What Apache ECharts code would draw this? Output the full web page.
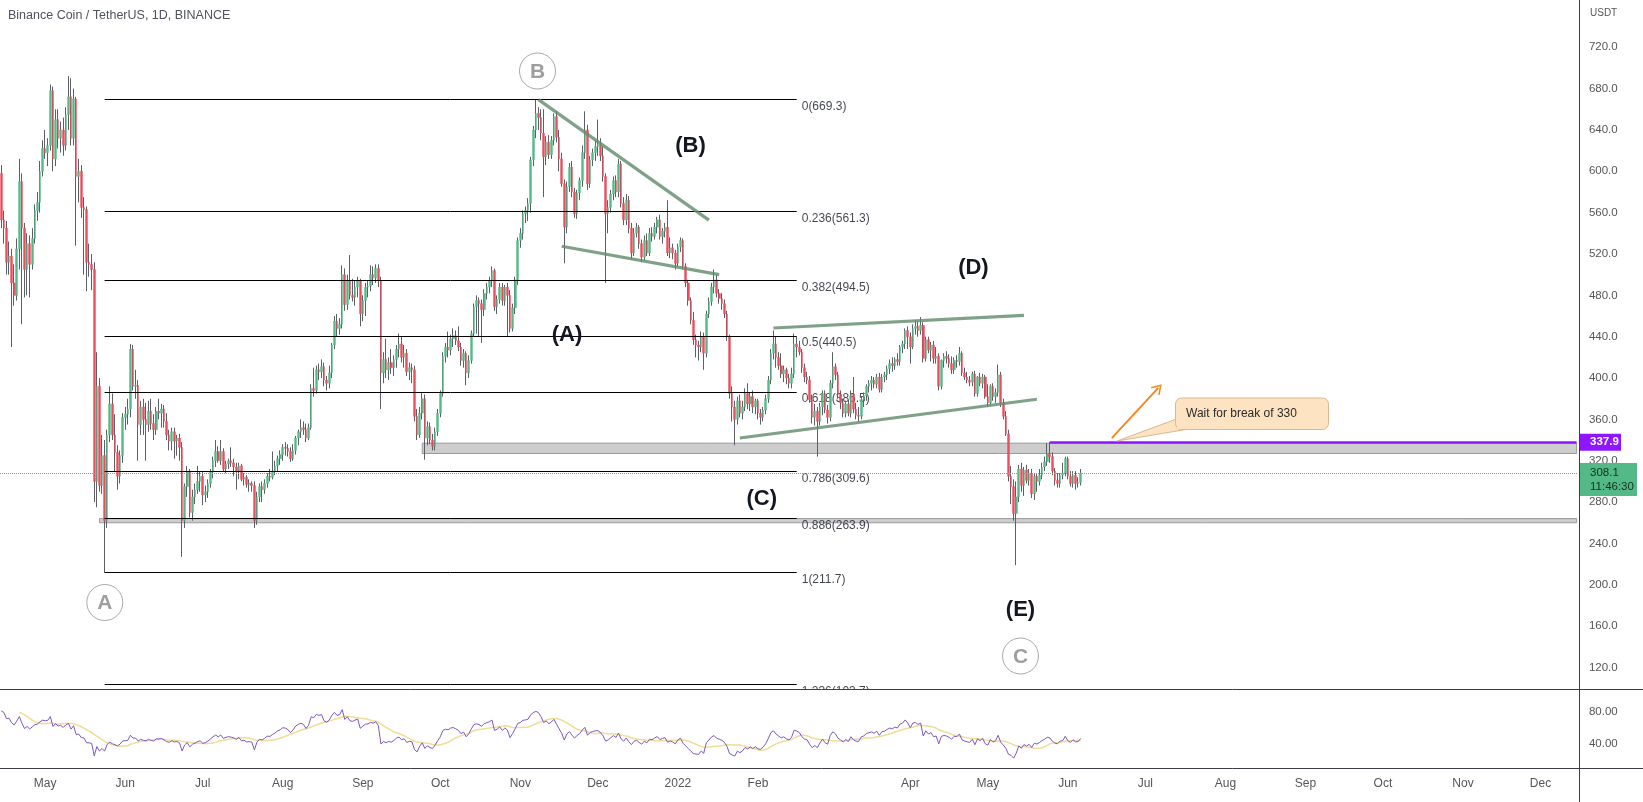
<!DOCTYPE html>
<html><head><meta charset="utf-8">
<script src="https://cdn.jsdelivr.net/npm/echarts@6/dist/echarts.min.js"></script>
<style>html,body{margin:0;padding:0;background:#fff;}#c{width:1643px;height:802px;}</style>
</head><body><div id="c"></div>
<script>
// ---------- DATA ----------
const START_DATE = '2021-04-14';
const N_DAYS = 611;
// daily candles from 2021-04-14: [open, close, low, high]
const candles = [
[598,553,545,606],[553,545,530,562],[545,512,500,552],[512,518,500,532],[518,492,430,525],[492,480,470,510],[480,525,475,535],
[525,590,505,612],[590,545,452,598],[545,505,478,550],[505,530,480,540],[530,510,478,538],[510,535,505,545],[535,562,530,568],
[562,570,552,580],[570,600,560,610],[600,622,595,630],[622,618,612,640],[618,625,605,632],[625,678,620,684],[678,612,600,682],
[612,650,605,660],[650,632,622,660],[632,640,618,648],[640,625,615,652],[625,655,620,662],[655,672,640,692],[672,632,625,690],
[632,670,625,680],[670,595,528,672],[595,600,570,612],[600,565,555,606],[565,563,500,575],[563,512,484,566],[512,510,498,530],
[510,505,485,520],[505,300,280,512],[300,392,275,425],[392,296,290,400],[296,325,288,345],[325,262,211.7,340],[262,345,255,350],
[345,375,338,392],[375,345,340,385],[345,328,310,365],[328,305,292,335],[305,325,298,330],[325,362,318,366],[362,365,350,372],
[365,370,355,380],[370,428,362,433],[428,392,388,432],[392,393,380,408],[393,355,320,398],[355,372,345,378],[372,360,345,380],
[360,355,320,376],[355,368,348,378],[368,356,350,380],[356,350,340,365],[350,368,345,372],[368,366,360,380],[366,370,352,375],
[370,358,352,374],[358,345,340,366],[345,339,330,350],[339,348,330,352],[348,339,322,352],[339,342,325,345],[342,333,320,346],
[333,262,227,338],[262,295,255,298],[295,309,285,315],[309,270,265,312],[270,285,262,292],[285,292,278,298],[292,300,288,315],
[300,305,290,310],[305,287,277,309],[287,290,280,296],[290,298,284,302],[298,309,294,312],[309,320,303,324],[320,329,314,340],
[329,320,318,334],[320,329,316,340],[329,312,310,332],[312,317,308,320],[317,320,312,322],[320,318,314,333],[318,314,305,322],
[314,309,292,318],[309,315,302,318],[315,302,300,317],[302,304,296,308],[304,297,294,306],[297,298,290,302],[298,296,290,300],
[296,262,255,300],[262,285,258,290],[285,295,280,298],[295,292,280,300],[292,298,288,302],[298,305,294,308],[305,304,300,312],
[304,310,302,329],[310,315,306,320],[315,322,310,325],[322,326,316,330],[326,333,320,336],[333,332,325,338],[332,329,324,336],
[329,322,319,333],[322,330,320,336],[330,342,326,344],[342,348,335,350],[348,352,342,360],[352,350,345,358],[350,342,338,356],
[342,352,340,356],[352,390,350,394],[390,388,382,410],[388,408,385,412],[408,406,398,414],[406,411,400,418],[411,398,392,415],
[398,395,388,402],[395,405,390,412],[405,432,400,434],[432,455,428,460],[455,448,440,462],[448,452,442,458],[452,500,448,509],
[500,471,465,506],[471,494,466,500],[494,480,476,519],[480,478,474,496],[478,488,470,494],[488,494,478,498],[494,462,450,496],
[462,475,455,480],[475,488,460,492],[488,489,478,494],[489,500,484,509],[500,497,490,508],[497,506,492,510],[506,494,488,510],
[494,405,370,498],[405,418,395,425],[418,408,400,438],[408,415,398,420],[415,410,404,428],[410,418,402,422],[418,428,410,432],
[428,433,420,443],[433,420,415,440],[420,424,410,432],[424,406,402,428],[406,410,398,415],[410,408,395,414],[408,363,358,412],
[363,345,340,370],[345,366,342,372],[366,380,360,386],[380,342,321,384],[342,353,335,358],[353,340,336,357],[340,334,330,346],
[334,348,330,352],[348,366,344,370],[366,385,362,388],[385,421,382,425],[421,430,415,434],[430,427,420,445],[427,438,422,442],
[438,441,430,448],[441,436,432,446],[436,430,426,450],[430,417,412,434],[417,424,410,428],[424,405,393,426],[405,417,400,422],
[417,443,414,446],[443,469,440,472],[469,475,443,480],[475,472,440,478],[472,466,434,476],[466,482,460,486],[482,488,476,492],
[488,494,482,498],[494,504,488,508],[504,469,465,506],[469,476,462,480],[476,488,472,492],[488,475,470,492],[475,488,470,490],
[488,480,440,492],[480,448,444,485],[448,468,445,472],[468,495,462,498],[495,533,490,536],[533,540,526,545],[540,559,534,562],
[559,562,550,566],[562,569,552,574],[569,611,560,614],[611,640,605,644],[640,656,632,669.3],[656,652,640,662],[652,637,630,660],
[637,614,575,660],[614,628,606,634],[628,616,612,635],[616,630,612,634],[630,653,625,656],[653,633,628,658],[633,612,600,640],
[612,588,585,618],[588,546,511,592],[546,585,540,590],[585,604,580,608],[604,580,575,610],[580,559,555,584],[559,579,554,582],
[579,591,572,594],[591,618,585,625],[618,640,612,658],[640,588,582,645],[588,611,584,615],[611,618,605,622],[618,624,610,630],
[624,626,615,650],[626,615,610,632],[615,595,590,624],[595,559,492,598],[559,565,540,572],[565,578,560,582],[578,591,572,595],
[591,580,575,596],[580,607,575,612],[607,569,565,610],[569,553,548,575],[553,572,548,578],[572,545,540,576],[545,521,515,550],
[521,540,518,545],[540,546,536,550],[546,530,525,548],[530,517,512,534],[517,533,514,538],[533,521,518,540],[521,540,518,545],
[540,537,532,546],[537,546,534,550],[546,553,540,556],[553,537,534,558],[537,542,530,545],[542,546,536,550],[546,521,518,572],
[521,526,516,536],[526,521,515,530],[521,511,505,524],[511,527,508,530],[527,533,522,536],[533,508,505,535],[508,492,488,511],
[492,475,470,495],[475,456,452,478],[456,437,432,464],[437,432,420,442],[432,430,417,436],[430,440,425,445],[440,424,408,444],
[424,462,420,465],[462,474,458,478],[474,488,470,492],[488,495,482,505],[495,482,478,500],[482,477,472,486],[477,472,466,482],
[472,462,458,476],[462,440,436,465],[440,385,380,442],[385,372,358,392],[372,360,335,378],[360,378,355,382],[378,366,362,384],
[366,372,360,378],[372,385,368,390],[385,375,370,395],[375,382,368,386],[382,372,366,388],[372,378,365,380],[378,366,360,380],
[366,362,355,370],[362,369,358,372],[369,380,365,384],[380,398,376,402],[398,424,394,428],[424,433,418,446],[433,420,410,440],
[420,412,408,425],[412,404,400,424],[404,408,396,412],[408,400,394,410],[400,395,390,404],[395,404,390,410],[404,433,400,443],
[433,430,420,440],[430,425,422,436],[425,410,405,428],[410,401,396,414],[401,398,394,406],[398,379,376,402],[379,362,356,384],
[362,368,354,375],[368,358,324,372],[358,372,354,376],[372,385,364,388],[385,369,366,388],[369,362,356,374],[362,395,358,398],
[395,411,390,425],[411,403,398,414],[403,384,380,406],[384,376,370,388],[376,366,362,380],[366,375,362,378],[375,366,363,379],
[366,384,362,388],[384,370,366,401],[370,364,360,376],[364,363,358,372],[363,379,360,382],[379,383,372,386],[383,392,378,394],
[392,395,386,398],[395,398,388,402],[398,394,390,401],[394,401,390,404],[401,389,386,405],[389,401,386,404],[401,403,396,406],
[403,409,398,412],[409,414,404,418],[414,412,406,420],[412,418,408,420],[418,416,412,424],[416,430,412,432],[430,433,424,436],
[433,446,428,448],[446,440,428,450],[440,430,414,444],[430,448,428,452],[448,450,442,456],[450,446,440,455],[446,451,442,459],
[451,419,415,454],[419,437,416,440],[437,427,424,440],[427,432,416,435],[432,419,414,436],[419,421,414,430],[421,392,388,424],
[392,417,389,418],[417,421,410,424],[421,419,414,426],[419,414,410,423],[414,408,404,421],[408,417,404,420],[417,416,410,422],
[416,424,412,430],[424,405,402,426],[405,401,398,410],[401,398,395,406],[398,396,392,402],[396,404,392,406],[404,385,382,407],
[385,401,382,402],[401,395,392,405],[395,401,390,404],[401,382,380,403],[382,376,372,394],[376,392,374,394],[392,382,378,395],
[382,386,376,390],[386,403,382,413],[403,376,372,406],[376,363,360,380],[363,346,344,368],[346,305,300,350],[305,295,278,315],
[295,269,262,302],[269,285,219,300],[285,312,280,316],[312,296,290,318],[296,311,286,314],[311,301,298,316],[301,308,296,312],
[308,288,284,312],[288,305,282,308],[305,300,290,308],[300,306,296,312],[306,314,302,318],[314,319,310,324],[319,327,315,337],
[327,324,318,337.9],[324,310,306,328],[310,301,296,313],[301,298,294,308],[298,306,294,308],[306,308,302,318],[308,322,305,324],
[322,305,302,324],[305,298,295,310],[298,306,294,310],[306,298,292,310],[298,299,294,304],[299,308.1,296,312]
];
// closes before the first visible day (RSI warm-up)
const warmupCloses = [245,255,258,262,270,295,308,345,370,360,405,398,410,392,418,422,468,500,555,598];
const priceTicks = [120,160,200,240,280,320,360,400,440,480,520,560,600,640,680,720];
const rsiTicks = [40,80];
const monthTickDates = ['2021-05-01','2021-06-01','2021-07-01','2021-08-01','2021-09-01','2021-10-01','2021-11-01','2021-12-01','2022-01-01','2022-02-01','2022-04-01','2022-05-01','2022-06-01','2022-07-01','2022-08-01','2022-09-01','2022-10-01','2022-11-01','2022-12-01'];
const monthTickLabels = ['May','Jun','Jul','Aug','Sep','Oct','Nov','Dec','2022','Feb','Apr','May','Jun','Jul','Aug','Sep','Oct','Nov','Dec'];
const fibRatios = ['0','0.236','0.382','0.5','0.618','0.786','0.886','1','1.236'];
const fibValues = [669.3,561.3,494.5,440.5,386.5,309.6,263.9,211.7,103.7];
const fibStartIdx = 40, fibEndIdx = 308;
// trendlines: [idx1, v1, idx2, v2]
const trendLines = [[208.4,669.3,274.2,552.8],[217.0,527.5,277.8,500.1],[298.9,448.4,396.3,460.6],[285.5,342.0,401.2,379.5]];
const zones = [[163,327,337],[38,260,264]];
const breakLevel = 337.9, breakStartIdx = 406;
const lastPrice = 308.1, countdown = '11:46:30';
const arrowLine = [430.4,341.9,448.3,390.5];

// ---------- BUILD ----------
const dates = [];
const t0 = Date.UTC(2021,3,14);
for (let i=0;i<N_DAYS;i++){ dates.push(new Date(t0+i*86400000).toISOString().slice(0,10)); }
const tickMap = {}; monthTickDates.forEach((d,i)=>tickMap[d]=monthTickLabels[i]);
const lastIdx = N_DAYS-1;

const bodies = candles.map(r=>[r[0],r[1],Math.min(r[0],r[1]),Math.max(r[0],r[1])]);

function rsiCalc(arr,p){
  const out=new Array(arr.length).fill(null); let ag=0,al=0;
  for(let i=1;i<arr.length;i++){
    const ch=arr[i]-arr[i-1], g=Math.max(ch,0), l=Math.max(-ch,0);
    if(i<=p){ ag+=g; al+=l; if(i===p){ag/=p; al/=p; out[i]=100-100/(1+ag/al);} }
    else { ag=(ag*(p-1)+g)/p; al=(al*(p-1)+l)/p; out[i]= al===0?100:100-100/(1+ag/al); }
  }
  return out;
}
const allCloses = warmupCloses.concat(candles.map(r=>r[1]));
const rsiAll = rsiCalc(allCloses,14);
const maAll = rsiAll.map((v,i)=>{ if(i<13) return null; let s=0; for(let j=i-13;j<=i;j++){ if(rsiAll[j]==null) return null; s+=rsiAll[j]; } return s/14; });
const rsiVals = rsiAll.slice(warmupCloses.length).map(v=>v==null?null:+v.toFixed(2));
const maVals = maAll.slice(warmupCloses.length).map(v=>v==null?null:+v.toFixed(2));

const FONT = 'Liberation Sans, Arial, sans-serif';
const GRID_W = N_DAYS*2.5825;
const PANE_B = 689.5, RSI_B = 768;
const SOLID = (color,width)=>({color, width, type:'solid'});

const chart = echarts.init(document.getElementById('c'), null, {renderer:'canvas'});
const option = {
  animation:false,
  backgroundColor:'#ffffff',
  grid:[
    {left:0, top:0, width:GRID_W, height:PANE_B},
    {left:0, top:PANE_B, width:GRID_W, height:RSI_B-PANE_B}
  ],
  xAxis:[
    {type:'category', gridIndex:0, data:dates, boundaryGap:true, axisLine:{show:false}, axisTick:{show:false}, axisLabel:{show:false}, splitLine:{show:false}},
    {type:'category', gridIndex:1, data:dates, boundaryGap:true, axisLine:{show:false}, axisTick:{show:false}, splitLine:{show:false},
     axisLabel:{show:true, interval:(i,v)=>tickMap[v]!==undefined, formatter:v=>tickMap[v]||'', color:'#555', fontSize:12, fontFamily:FONT, margin:10, hideOverlap:false}}
  ],
  yAxis:[
    {type:'value', gridIndex:0, position:'right', min:98.7, max:765.7, splitLine:{show:false}, axisLine:{show:false}, axisTick:{show:false},
     axisLabel:{customValues:priceTicks, formatter:v=>v.toFixed(1), color:'#555', fontSize:11.5, fontFamily:FONT, margin:11, align:'left'}},
    {type:'value', gridIndex:1, position:'right', min:10.5, max:107.1, splitLine:{show:false}, axisLine:{show:false}, axisTick:{show:false},
     axisLabel:{customValues:rsiTicks, formatter:v=>v.toFixed(2), color:'#555', fontSize:11.5, fontFamily:FONT, margin:11, align:'left'}}
  ],
  series:[
    { // fib labels + fib lines + zones (under candles)
      type:'scatter', xAxisIndex:0, yAxisIndex:0, z:1, symbolSize:0, silent:true,
      data: fibValues.map((v,i)=>({value:[fibEndIdx,v], name:fibRatios[i]+'('+v.toFixed(1)+')'})),
      label:{show:true, position:'right', distance:5, offset:[0,7], formatter:p=>p.name, color:'#131722', fontSize:12, fontFamily:FONT},
      markLine:{silent:true, symbol:['none','none'], animation:false, label:{show:false},
        lineStyle:SOLID('#000',1),
        data: fibValues.map(v=>[{coord:[fibStartIdx,v], lineStyle:SOLID('#000',1)},{coord:[fibEndIdx,v]}])},
      markArea:{silent:true, itemStyle:{color:'#cdcdcd', borderColor:'#9a9a9a', borderWidth:1},
        data: zones.map(z=>[{coord:[z[0],z[1]]},{coord:[lastIdx,z[2]]}])}
    },
    { // wicks
      type:'candlestick', xAxisIndex:0, yAxisIndex:0, z:3, data:candles, barWidth:0.6, silent:true,
      itemStyle:{color:'#5d5f66', color0:'#5d5f66', borderColor:'#5d5f66', borderColor0:'#5d5f66', borderColorDoji:'#5d5f66', borderWidth:1}
    },
    { // bodies
      type:'candlestick', xAxisIndex:0, yAxisIndex:0, z:4, data:bodies, barWidth:2.1, silent:true,
      itemStyle:{color:'#53b987', color0:'#eb4d5c', borderColor:'#53b987', borderColor0:'#eb4d5c', borderColorDoji:'#53b987', borderWidth:0.4}
    },
    { // drawings over candles
      type:'line', xAxisIndex:0, yAxisIndex:0, z:6, data:[], silent:true,
      markLine:{silent:true, symbol:['none','none'], animation:false, label:{show:false}, lineStyle:{type:'solid'},
        data:[
          ...trendLines.map(t=>[{coord:[t[0],t[1]], lineStyle:SOLID('rgba(98,140,108,0.82)',3.2)},{coord:[t[2],t[3]]}]),
          [{coord:[breakStartIdx,breakLevel], lineStyle:SOLID('#8f16ff',2.5)},{coord:[lastIdx,breakLevel]}],
          [{coord:[arrowLine[0],arrowLine[1]], lineStyle:SOLID('#f5891f',2), symbol:'none'},
           {coord:[arrowLine[2],arrowLine[3]], symbol:'path://M0,12 L6,0 L12,12 L10.6,13 L6,3.6 L1.4,13 Z', symbolSize:[12,10]}],
          [{yAxis:lastPrice, x:0, lineStyle:{color:'#53b987', width:1, type:'dotted'}},{yAxis:lastPrice, x:GRID_W}]
        ]}
    },
    { // RSI MA
      type:'line', xAxisIndex:1, yAxisIndex:1, z:19, data:maVals, showSymbol:false, silent:true,
      lineStyle:{color:'#efdc95', width:1.5}
    },
    { // RSI
      type:'line', xAxisIndex:1, yAxisIndex:1, z:20, data:rsiVals, showSymbol:false, silent:true,
      lineStyle:{color:'#7e57c2', width:1},
      markArea:{silent:true, itemStyle:{color:'rgba(126,87,194,0.1)'}, data:[[{yAxis:30},{yAxis:70}]]},
      markLine:{silent:true, symbol:['none','none'], label:{show:false},
        data:[
          {yAxis:70, lineStyle:{color:'#787b86', type:[5,5], width:1}},
          {yAxis:50, lineStyle:{color:'rgba(120,123,134,0.55)', type:[5,5], width:1}},
          {yAxis:30, lineStyle:{color:'#787b86', type:[5,5], width:1}}
        ]}
    }
  ]
};
chart.setOption(option);

// ---------- overlays ----------
const py = v=>chart.convertToPixel({yAxisIndex:0}, v);
const gEls = [];
gEls.push({type:'rect', z:10, silent:true, shape:{x:0,y:PANE_B,width:GRID_W,height:RSI_B-PANE_B}, style:{fill:'#fff'}});
gEls.push({type:'line', z:50, silent:true, shape:{x1:0,y1:PANE_B,x2:1643,y2:PANE_B}, style:{stroke:'#3a3d45', lineWidth:1}});
gEls.push({type:'line', z:50, silent:true, shape:{x1:0,y1:RSI_B+0.5,x2:1643,y2:RSI_B+0.5}, style:{stroke:'#3a3d45', lineWidth:1}});
gEls.push({type:'line', z:50, silent:true, shape:{x1:1579.5,y1:0,x2:1579.5,y2:802}, style:{stroke:'#3a3d45', lineWidth:1}});
gEls.push({type:'text', z:50, silent:true, style:{text:'Binance Coin / TetherUS, 1D, BINANCE', x:8, y:16, verticalAlign:'middle', fill:'#50535e', fontSize:12.5, fontFamily:FONT}});
gEls.push({type:'text', z:50, silent:true, style:{text:'USDT', x:1590, y:13, verticalAlign:'middle', fill:'#555', fontSize:10, fontFamily:FONT}});
[['(A)',567,335],['(B)',690.5,145.6],['(C)',761.7,498.8],['(D)',973.4,268.2],['(E)',1020.5,609.8]].forEach(l=>{
  gEls.push({type:'text', z:50, silent:true, style:{text:l[0], x:l[1], y:l[2], align:'center', verticalAlign:'middle', fill:'#131722', fontSize:22, fontWeight:'bold', fontFamily:FONT}});
});
[['B',537.5,71],['A',104.8,602.5],['C',1020.5,656]].forEach(c=>{
  gEls.push({type:'circle', z:50, silent:true, shape:{cx:c[1],cy:c[2],r:18}, style:{fill:'#fff', stroke:'#a9a9a9', lineWidth:1}});
  gEls.push({type:'text', z:51, silent:true, style:{text:c[0], x:c[1], y:c[2]+1, align:'center', verticalAlign:'middle', fill:'#9e9e9e', fontSize:21, fontWeight:'bold', fontFamily:FONT}});
});
gEls.push({type:'polygon', z:52, silent:true, shape:{points:[[1117,441],[1176.5,419],[1186,429.5]]}, style:{fill:'#fde3c2', stroke:'#d9b98f', lineWidth:1}});
gEls.push({type:'rect', z:53, silent:true, shape:{x:1175.5,y:398,width:153,height:31.5,r:6}, style:{fill:'#fde3c2', stroke:'#d9b98f', lineWidth:1}});
gEls.push({type:'polygon', z:54, silent:true, shape:{points:[[1177,420],[1185,428.8],[1177,428.8]]}, style:{fill:'#fde3c2'}});
gEls.push({type:'text', z:55, silent:true, style:{text:'Wait for break of 330', x:1186, y:414, verticalAlign:'middle', fill:'#2a2a2a', fontSize:12, fontFamily:FONT}});
const yb = py(breakLevel), yl = py(lastPrice);
gEls.push({type:'rect', z:60, silent:true, shape:{x:1580,y:yb-8.5,width:41,height:17}, style:{fill:'#8f16ff'}});
gEls.push({type:'text', z:61, silent:true, style:{text:breakLevel.toFixed(1), x:1590, y:yb, verticalAlign:'middle', fill:'#fff', fontSize:11.5, fontWeight:'bold', fontFamily:FONT}});
gEls.push({type:'rect', z:60, silent:true, shape:{x:1580,y:yl-10,width:57,height:33}, style:{fill:'#53b987'}});
gEls.push({type:'text', z:61, silent:true, style:{text:lastPrice.toFixed(1), x:1590, y:yl, verticalAlign:'middle', fill:'#14301f', fontSize:11.5, fontFamily:FONT}});
gEls.push({type:'text', z:61, silent:true, style:{text:countdown, x:1590, y:yl+14, verticalAlign:'middle', fill:'#14301f', fontSize:11.5, fontFamily:FONT}});
chart.setOption({graphic:{elements:gEls}});
</script></body></html>
